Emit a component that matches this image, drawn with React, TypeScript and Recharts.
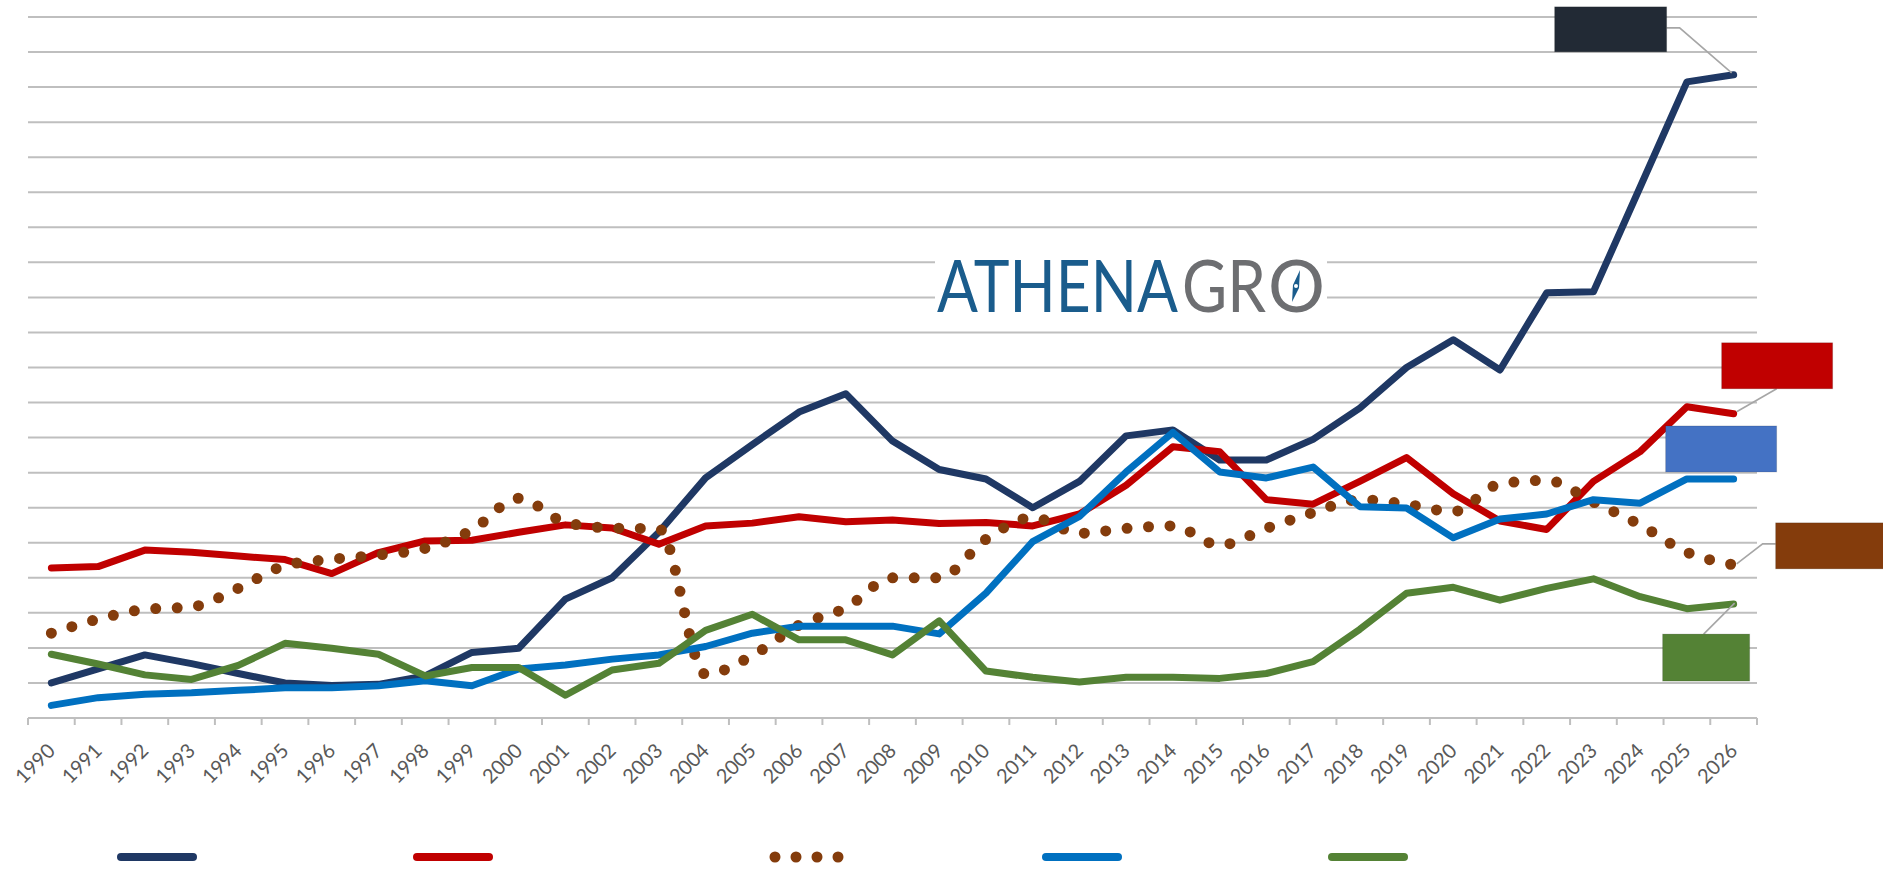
import { useLayoutEffect, useRef, useState } from 'react'
import { LineChart, Line, XAxis, YAxis, CartesianGrid, LabelList } from 'recharts'

// ---- data ----
const years = [
  '1990', '1991', '1992', '1993', '1994', '1995', '1996', '1997', '1998', '1999',
  '2000', '2001', '2002', '2003', '2004', '2005', '2006', '2007', '2008', '2009',
  '2010', '2011', '2012', '2013', '2014', '2015', '2016', '2017', '2018', '2019',
  '2020', '2021', '2022', '2023', '2024', '2025', '2026',
]

const navySeries = [
  1.0, 1.4, 1.8, 1.55, 1.27, 1.0, 0.93, 0.96, 1.2, 1.87,
  1.99, 3.39, 4.0, 5.3, 6.85, 7.8, 8.73, 9.25, 7.9, 7.09,
  6.82, 6.0, 6.75, 8.05, 8.22, 7.36, 7.36, 7.95, 8.84, 10.0,
  10.79, 9.93, 12.13, 12.16, 15.15, 18.15, 18.35,
]

const redSeries = [
  4.28, 4.32, 4.79, 4.73, 4.62, 4.52, 4.12, 4.72, 5.05, 5.07,
  5.3, 5.51, 5.42, 4.96, 5.48, 5.56, 5.74, 5.6, 5.65, 5.55,
  5.58, 5.48, 5.82, 6.64, 7.74, 7.6, 6.23, 6.1, 6.75, 7.43,
  6.4, 5.62, 5.38, 6.75, 7.6, 8.88, 8.68,
]

const brownSeries = [
  2.42, 2.82, 3.1, 3.17, 3.7, 4.35, 4.53, 4.65, 4.84, 5.36,
  6.27, 5.58, 5.42, 5.4, 1.25, 1.78, 2.65, 3.14, 4.0, 4.0,
  5.1, 5.72, 5.27, 5.41, 5.48, 4.93, 5.41, 5.86, 6.23, 6.1,
  5.89, 6.68, 6.78, 6.16, 5.51, 4.73, 4.37,
]

const blueSeries = [
  0.36, 0.58, 0.68, 0.72, 0.79, 0.86, 0.86, 0.92, 1.06, 0.92,
  1.4, 1.51, 1.68, 1.8, 2.04, 2.42, 2.62, 2.62, 2.62, 2.4,
  3.56, 5.03, 5.75, 7.02, 8.15, 7.02, 6.85, 7.16, 6.03, 5.99,
  5.14, 5.68, 5.82, 6.23, 6.13, 6.82, 6.82,
]

const greenSeries = [
  1.82, 1.54, 1.23, 1.1, 1.5, 2.13, 1.99, 1.82, 1.2, 1.44,
  1.44, 0.65, 1.37, 1.56, 2.5, 2.96, 2.23, 2.23, 1.8, 2.77,
  1.34, 1.16, 1.03, 1.16, 1.16, 1.13, 1.27, 1.61, 2.53, 3.56,
  3.73, 3.36, 3.7, 3.97, 3.46, 3.12, 3.25,
]

const yTicks = [0, 1, 2, 3, 4, 5, 6, 7, 8, 9, 10, 11, 12, 13, 14, 15, 16, 17, 18, 19, 20]

const data = years.map((year, i) => ({
  year,
  navy: navySeries[i],
  red: redSeries[i],
  brown: brownSeries[i],
  blue: blueSeries[i],
  green: greenSeries[i],
}))

// ---- layout / styles ----
const W = 1883
const H = 869
const MARGIN = { top: 17, right: 126, bottom: 0, left: 28 }
const STEP = (W - MARGIN.left - MARGIN.right) / years.length
const GRID = '#BFBFBF'
const LEADER = '#A6A6A6'
const FONT = "Lato, 'Open Sans', sans-serif"

type Callout = {
  dx: number
  dy: number
  w: number
  h: number
  fill: string
  leader?: [number, number][]
}

const SERIES: { key: string; color: string; callout: Callout; legendX: number }[] = [
  {
    key: 'navy', color: '#1F3864', legendX: 117,
    callout: { dx: -179, dy: -68, w: 112, h: 45, fill: '#222A35', leader: [[-67, -47], [-54, -47], [-2, -2]] },
  },
  {
    key: 'red', color: '#C00000', legendX: 413,
    callout: { dx: -12, dy: -71, w: 111, h: 46, fill: '#C00000', leader: [[43, -25], [3, -2]] },
  },
  {
    key: 'brown', color: '#843C0C', legendX: 775,
    callout: { dx: 42, dy: -42, w: 112, h: 46, fill: '#843C0C', leader: [[42, -21], [29, -21], [3, -1]] },
  },
  {
    key: 'blue', color: '#0070C0', legendX: 1042,
    callout: { dx: -68, dy: -53, w: 111, h: 46, fill: '#4472C4' },
  },
  {
    key: 'green', color: '#548235', legendX: 1328,
    callout: { dx: -71, dy: 30, w: 87, h: 47, fill: '#548235', leader: [[-30, 30], [1, -1]] },
  },
]

const makeCallout = (c: Callout) => (props: any) => {
  const { x, y, index } = props
  if (index !== years.length - 1 || x == null || y == null) return null
  return (
    <g>
      {c.leader && (
        <polyline
          points={c.leader.map(([dx, dy]) => `${x + dx},${y + dy}`).join(' ')}
          fill="none"
          stroke={LEADER}
          strokeWidth={1.6}
        />
      )}
      <rect x={x + c.dx} y={y + c.dy} width={c.w} height={c.h} fill={c.fill} stroke="rgba(0,0,0,0.15)" />
    </g>
  )
}

const YearTick = (props: any) => {
  const { x, y, payload, index } = props
  const half = STEP / 2
  const tx = x + 5
  const ty = y + 34
  return (
    <g>
      <line x1={x - half} y1={y} x2={x - half} y2={y + 7} stroke={GRID} strokeWidth={2} />
      {index === years.length - 1 && (
        <line x1={x + half} y1={y} x2={x + half} y2={y + 7} stroke={GRID} strokeWidth={2} />
      )}
      <text
        x={tx}
        y={ty}
        transform={`rotate(-45 ${tx} ${ty})`}
        textAnchor="end"
        fontSize={20}
        fontFamily={FONT}
        fill="#595959"
      >
        {payload.value}
      </text>
    </g>
  )
}

// text squeezed horizontally to a given width (logo lettering is condensed)
function FitText({ x, y, width, fill, children }: { x: number; y: number; width: number; fill: string; children: string }) {
  const ref = useRef<SVGTextElement>(null)
  const [sx, setSx] = useState(1)
  useLayoutEffect(() => {
    if (ref.current) {
      const len = ref.current.getComputedTextLength()
      if (len > 0) setSx(width / len)
    }
  }, [width, children])
  return (
    <text
      ref={ref}
      x={0}
      y={0}
      transform={`translate(${x} ${y}) scale(${sx} 1)`}
      fontSize={72}
      fontWeight={400}
      fontFamily={FONT}
      fill={fill}
    >
      {children}
    </text>
  )
}

function Overlay() {
  const legendY = 857
  return (
    <svg width={W} height={H} style={{ position: 'absolute', left: 0, top: 0, pointerEvents: 'none' }}>
      {/* logo */}
      <rect x={935} y={244} width={392} height={76} fill="#fff" />
      <FitText x={937} y={312} width={241} fill="#1A5C8C">ATHENA</FitText>
      <FitText x={1182} y={312} width={84} fill="#6D6E71">GR</FitText>
      <FitText x={1268} y={312} width={57} fill="#6D6E71">O</FitText>
      <polygon points="1300,270 1299,288 1292,302 1293,285" fill="#1A5C8C" />
      <circle cx={1296} cy={286} r={2} fill="#fff" />

      {/* legend (series names are not shown in the source) */}
      {SERIES.map((s) =>
        s.key === 'brown' ? (
          <line
            key={s.key}
            x1={s.legendX}
            y1={legendY}
            x2={s.legendX + 64}
            y2={legendY}
            stroke={s.color}
            strokeWidth={11}
            strokeDasharray="0 21"
            strokeLinecap="round"
          />
        ) : (
          <line
            key={s.key}
            x1={s.legendX + 4}
            y1={legendY}
            x2={s.legendX + 76}
            y2={legendY}
            stroke={s.color}
            strokeWidth={8}
            strokeLinecap="round"
          />
        )
      )}
    </svg>
  )
}

export default function App() {
  return (
    <div style={{ position: 'absolute', left: 0, top: 0, width: W, height: H, background: '#fff' }}>
      <LineChart width={W} height={H} data={data} margin={MARGIN}>
        <CartesianGrid vertical={false} stroke={GRID} strokeWidth={2} />
        <XAxis
          dataKey="year"
          scale="band"
          interval={0}
          height={151}
          tickLine={false}
          tickSize={0}
          tickMargin={0}
          axisLine={{ stroke: GRID, strokeWidth: 2 }}
          tick={<YearTick />}
        />
        <YAxis hide type="number" domain={[0, 20]} ticks={yTicks} />
        {SERIES.map((s) => (
          <Line
            key={s.key}
            dataKey={s.key}
            type={s.key === 'brown' ? 'monotone' : 'linear'}
            stroke={s.color}
            strokeWidth={s.key === 'brown' ? 11 : 7}
            strokeDasharray={s.key === 'brown' ? '0 21.5' : undefined}
            strokeLinecap="round"
            strokeLinejoin="round"
            dot={false}
            activeDot={false}
            isAnimationActive={false}
          >
            <LabelList dataKey={s.key} content={makeCallout(s.callout)} />
          </Line>
        ))}
      </LineChart>
      <Overlay />
    </div>
  )
}
